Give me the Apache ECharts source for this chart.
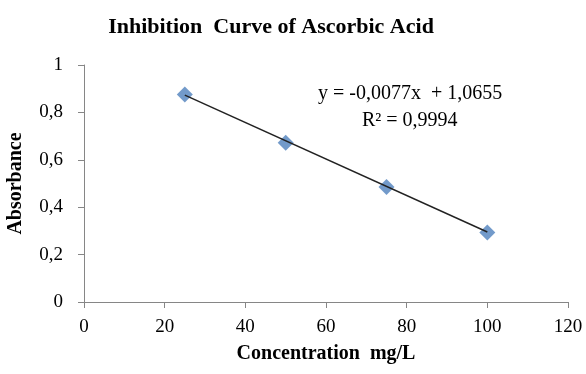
<!DOCTYPE html>
<html>
<head>
<meta charset="utf-8">
<script src="https://cdn.jsdelivr.net/npm/echarts@6/dist/echarts.min.js"></script>
<style>html,body{margin:0;padding:0;background:#fff;}#c{width:586px;height:374px;}</style>
</head>
<body>
<div id="c"></div>
<script>
var concentration = [25, 50, 75, 100];
var absorbance = [0.876, 0.672, 0.485, 0.293];
var trendX = [25, 100];
var trendY = [0.873, 0.2955];
var equationText = 'y = -0,0077x  + 1,0655';
var r2Text = 'R² = 0,9994';
var titleText = 'Inhibition  Curve of Ascorbic Acid';
var xName = 'Concentration  mg/L';
var yName = 'Absorbance';

var serif = '"Liberation Serif", "DejaVu Serif", serif';
function comma(v){ return String(v).replace('.', ','); }

var chart = echarts.init(document.getElementById('c'), null, {renderer: 'canvas'});
chart.setOption({
  animation: false,
  backgroundColor: '#fff',
  title: {
    text: titleText, left: 266, top: 11, textAlign: 'center',
    textStyle: {fontFamily: serif, fontWeight: 'bold', fontSize: 22, color: '#000'}
  },
  grid: {left: 84, right: 18, top: 65, bottom: 72, containLabel: false, outerBoundsMode: 'none'},
  xAxis: {
    type: 'value', min: 0, max: 120, interval: 20,
    name: xName, nameLocation: 'middle', nameGap: 42,
    nameTextStyle: {fontFamily: serif, fontWeight: 'bold', fontSize: 20, color: '#000'},
    axisLine: {lineStyle: {color: '#868686', width: 1}},
    axisTick: {show: true, length: 6, inside: false, lineStyle: {color: '#868686'}},
    axisLabel: {fontFamily: serif, fontSize: 19, color: '#000', margin: 16, formatter: comma},
    splitLine: {show: false}
  },
  yAxis: {
    type: 'value', min: 0, max: 1, interval: 0.2,
    name: yName, nameLocation: 'middle', nameGap: 58, nameRotate: 90,
    nameTextStyle: {fontFamily: serif, fontWeight: 'bold', fontSize: 20, color: '#000'},
    axisLine: {show: true, lineStyle: {color: '#868686', width: 1}},
    axisTick: {show: true, length: 6, lineStyle: {color: '#868686'}},
    axisLabel: {fontFamily: serif, fontSize: 19, color: '#000', margin: 21,
      formatter: function(v){ return comma(Math.round(v*10)/10); }},
    splitLine: {show: false}
  },
  series: [
    {
      type: 'line', data: trendX.map(function(x, i){ return [x, trendY[i]]; }),
      symbol: 'none', lineStyle: {color: '#222', width: 1.5}, z: 3
    },
    {
      type: 'scatter', data: concentration.map(function(x, i){ return [x, absorbance[i]]; }),
      symbol: 'diamond', symbolSize: 16, itemStyle: {color: '#4F81BD'}, z: 2
    }
  ],
  graphic: [
    {type: 'text', left: 318, top: 84, style: {text: equationText, font: '20px ' + serif, fill: '#000'}},
    {type: 'text', left: 362, top: 111, style: {text: r2Text, font: '20px ' + serif, fill: '#000'}}
  ]
});
</script>
</body>
</html>
